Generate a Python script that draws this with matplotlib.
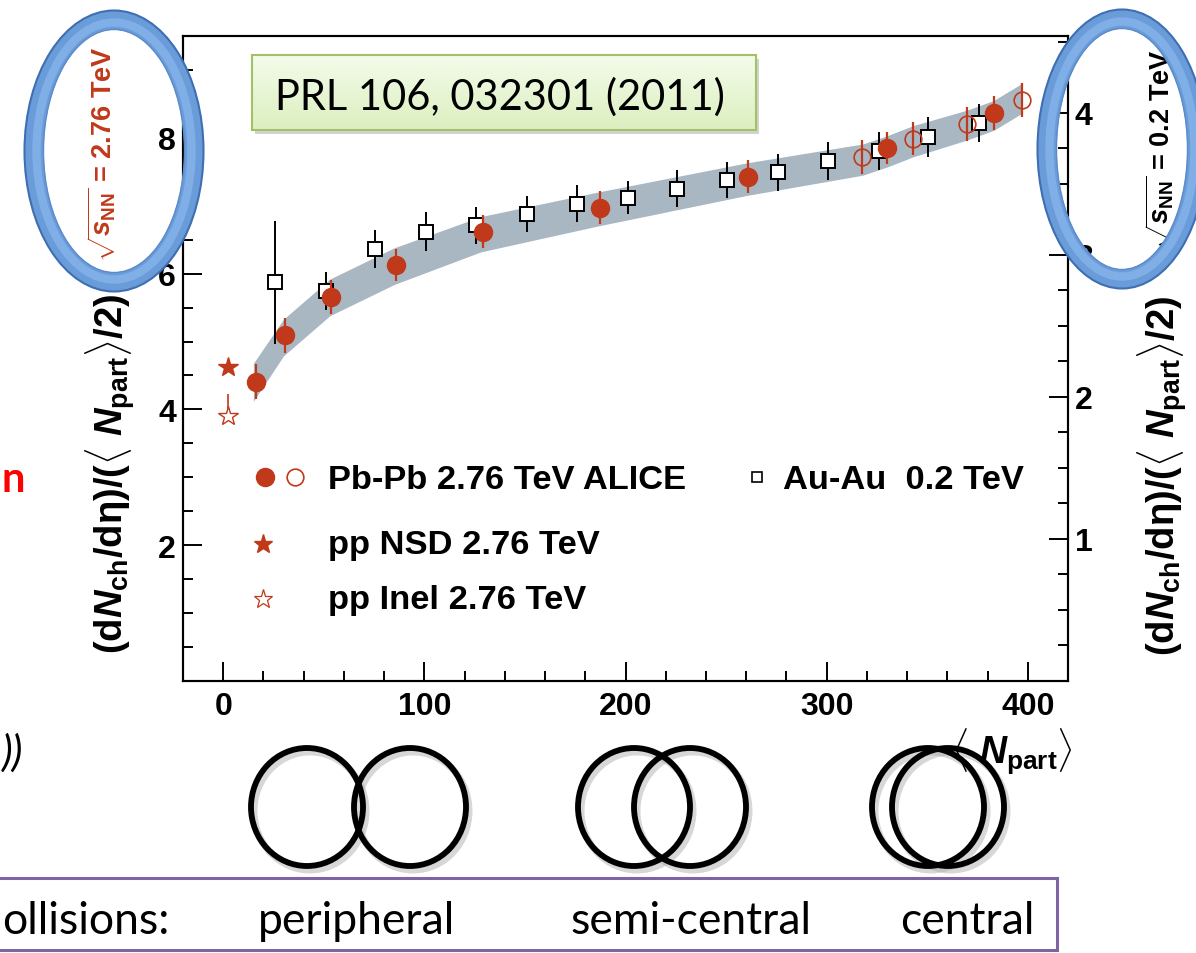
import numpy as np
import matplotlib
matplotlib.use('Agg')
import matplotlib.pyplot as plt
from matplotlib.patches import Ellipse, Rectangle
from matplotlib.ticker import MultipleLocator

# Pb-Pb 2.76 TeV ALICE (filled and open points)
pbpb_npart = [16.4, 30.8, 53.7, 86.0, 129.2, 187.3, 260.9, 330.0, 383.1]
pbpb_val = [4.41, 5.09, 5.66, 6.13, 6.62, 6.97, 7.43, 7.85, 8.37]
pbpb_err = [0.26, 0.26, 0.25, 0.24, 0.24, 0.24, 0.24, 0.24, 0.25]
pbpb_open_npart = [317.5, 342.9, 369.7, 397.0]
pbpb_open_val = [7.72, 7.99, 8.21, 8.56]
pbpb_open_err = [0.25, 0.25, 0.25, 0.25]

# Au-Au 0.2 TeV
auau_npart = [25.8, 51.2, 75.5, 100.9, 125.7, 151.1, 175.9, 201.2, 225.6,
              250.4, 275.8, 300.6, 326.0, 350.3, 375.7]
auau_val = [5.87, 5.74, 6.37, 6.62, 6.71, 6.88, 7.03, 7.12, 7.25,
            7.38, 7.49, 7.66, 7.81, 8.01, 8.22]
auau_err = [0.90, 0.28, 0.28, 0.29, 0.27, 0.27, 0.27, 0.24, 0.27,
            0.27, 0.27, 0.28, 0.28, 0.29, 0.28]

# pp 2.76 TeV
pp_npart = 2.5
pp_nsd = 4.62
pp_inel = 3.91
pp_inel_err = [[0.05], [0.31]]

# systematic band around the Pb-Pb points
band_npart = [15, 30, 53, 85, 128, 186, 260, 318, 330, 343, 370, 383, 397]
band_mid = [4.40, 5.06, 5.65, 6.11, 6.58, 6.95, 7.39, 7.68, 7.80, 7.95, 8.19, 8.33, 8.58]
band_half = [0.28, 0.27, 0.27, 0.27, 0.26, 0.25, 0.24, 0.23, 0.23, 0.23, 0.22, 0.22, 0.22]

RED = '#c0391a'
W, H = 1196, 954

plt.rcParams['font.family'] = ['Liberation Sans', 'DejaVu Sans']
plt.rcParams['font.weight'] = 'bold'
plt.rcParams['mathtext.fontset'] = 'custom'
plt.rcParams['mathtext.rm'] = 'Liberation Sans:bold'
plt.rcParams['mathtext.bf'] = 'Liberation Sans:bold'
plt.rcParams['mathtext.it'] = 'Liberation Sans:bold:italic'
plt.rcParams['mathtext.sf'] = 'Liberation Sans:bold'

fig = plt.figure(figsize=(W / 100, H / 100), dpi=100)
ax = fig.add_axes([183 / W, 1 - 682 / H, (1068 - 183) / W, (682 - 37) / H])

band_lo = np.array(band_mid) - np.array(band_half)
band_hi = np.array(band_mid) + np.array(band_half)
ax.fill_between(band_npart, band_lo, band_hi, color='#a9b7c2', lw=0, zorder=1)

ax.errorbar(auau_npart, auau_val, yerr=auau_err, fmt='s', ms=9.5, mfc='white',
            mec='black', mew=1.4, ecolor='black', elinewidth=1.4, capsize=0, zorder=3)
ax.errorbar(pbpb_npart, pbpb_val, yerr=pbpb_err, fmt='o', ms=13, color=RED,
            elinewidth=1.6, capsize=0, zorder=4)
ax.errorbar(pbpb_open_npart, pbpb_open_val, yerr=pbpb_open_err, fmt='o', ms=12,
            mfc='none', mec=RED, mew=1.2, ecolor=RED, elinewidth=1.6, capsize=0, zorder=4)
ax.plot([pp_npart], [pp_nsd], marker='*', ms=15, color=RED, ls='none', zorder=4)
ax.errorbar([pp_npart], [pp_inel], yerr=pp_inel_err, fmt='*', ms=15, mfc='white',
            mec=RED, mew=1.0, ecolor=RED, elinewidth=1.2, capsize=0, zorder=4)

ax.set_xlim(-20, 420)
ax.set_ylim(0, 9.5)
ax.xaxis.set_major_locator(MultipleLocator(100))
ax.xaxis.set_minor_locator(MultipleLocator(20))
ax.yaxis.set_major_locator(MultipleLocator(2))
ax.yaxis.set_minor_locator(MultipleLocator(0.5))
ax.set_yticks([2, 4, 6, 8])
ax.tick_params(which='both', direction='in', top=False, right=False, width=1.4,
               labelsize=23, colors='black')
ax.tick_params(which='major', length=14)
ax.tick_params(which='minor', length=7)
ax.tick_params(axis='x', pad=7)
ax.tick_params(axis='y', pad=5)
for s in ax.spines.values():
    s.set_linewidth(1.5)

ax2 = ax.twinx()
ax2.set_ylim(0, 4.54)
ax2.set_yticks([1, 2, 3, 4])
ax2.yaxis.set_minor_locator(MultipleLocator(0.25))
ax2.tick_params(which='both', direction='in', width=1.4, labelsize=23, pad=5)
ax2.tick_params(which='major', length=14)
ax2.tick_params(which='minor', length=7)
for s in ax2.spines.values():
    s.set_linewidth(1.5)

# overlay in pixel coordinates for labels and slide decorations
ov = fig.add_axes([0, 0, 1, 1], zorder=5)
ov.patch.set_alpha(0)

ylab = r'(d$N_{\mathrm{ch}}$/d$\mathrm{\eta}$)/($\langle$ $N_{\mathrm{part}}$$\rangle$/2)'
ov.text(110, 474, ylab, rotation=90, ha='center', va='center', fontsize=27.5)
ov.text(1162, 476, ylab, rotation=90, ha='center', va='center', fontsize=27.5)
ov.text(102, 154, r'$\sqrt{s_{\mathrm{NN}}}$ = 2.76 TeV', rotation=90, ha='center',
        va='center', fontsize=19.5, color=RED)
ov.text(1160, 150, r'$\sqrt{s_{\mathrm{NN}}}$ = 0.2 TeV', rotation=90, ha='center',
        va='center', fontsize=19.5, color='black')
ov.text(1012, 752, r'$\langle$ $N_{\mathrm{part}}$$\rangle$', ha='center', va='center',
        fontsize=27)

# legend
ov.plot([265], [478], 'o', ms=13, color=RED)
ov.plot([295], [478], 'o', ms=12, mfc='white', mec=RED, mew=1.2)
ov.plot([757], [478], 's', ms=7, mfc='white', mec='black', mew=1.2)
ov.plot([263], [545], '*', ms=14, color=RED)
ov.plot([263], [600], '*', ms=14, mfc='white', mec=RED, mew=0.9)
ov.text(328, 481, 'Pb-Pb 2.76 TeV ALICE', va='center', fontsize=24.8)
ov.text(783, 481, 'Au-Au  0.2 TeV', va='center', fontsize=24.8)
ov.text(328, 546, 'pp NSD 2.76 TeV', va='center', fontsize=24.8)
ov.text(328, 601, 'pp Inel 2.76 TeV', va='center', fontsize=24.8)

# reference box with a soft gradient
top_c = np.array([0.957, 0.988, 0.918])
bot_c = np.array([0.863, 0.937, 0.753])
grad = np.linspace(0, 1, 64)[:, None, None] * (bot_c - top_c) + top_c
ov.add_patch(Rectangle((255, 60), 504, 75, color='#7f7f7f', alpha=0.35, lw=0, zorder=1))
ov.imshow(grad, extent=(252, 756, 131, 56), aspect='auto', zorder=2)
ov.add_patch(Rectangle((252, 56), 504, 75, fill=False, ec='#a3c166', lw=1.5, zorder=3))
ov.text(500, 97, 'PRL 106, 032301 (2011)', ha='center', va='center', fontsize=30,
        family='Lato', weight='normal', zorder=4)


def ring(cx, cy, w, h):
    ov.add_patch(Ellipse((cx, cy), w, h, fill=False, lw=14, ec='#6b9cda', zorder=6))
    ov.add_patch(Ellipse((cx, cy), w - 5, h - 5, fill=False, lw=6, ec='#86b3ea',
                         alpha=0.8, zorder=6))
    ov.add_patch(Ellipse((cx, cy), w + 19, h + 19, fill=False, lw=1.5, ec='#3f6fb2', zorder=7))
    ov.add_patch(Ellipse((cx, cy), w - 19, h - 19, fill=False, lw=1.0, ec='#5b8bc9', zorder=7))


ring(114, 152, 160, 262)
ring(1122, 150, 150, 260)

# collision geometry sketches, with a light shadow
for cx in [307, 410, 634, 690, 928, 948]:
    ov.add_patch(Ellipse((cx + 3, 812), 112, 118, fill=False, lw=5, ec='#b0b0b0',
                         alpha=0.5, zorder=2))
    ov.add_patch(Ellipse((cx, 808), 112, 118, fill=False, lw=4.2, ec='black', zorder=3))

# bottom caption box
ov.add_patch(Rectangle((-5, 879), 1062, 72, fill=False, ec='#8064a2', lw=2.2, zorder=3))
cap = dict(va='baseline', fontsize=32, family='Lato', weight='normal')
ov.text(2, 934, 'ollisions:', ha='left', **cap)
ov.text(258, 934, 'peripheral', ha='left', **cap)
ov.text(570, 934, 'semi-central', ha='left', **cap)
ov.text(900, 934, 'central', ha='left', **cap)

# leftover text at the slide edge
ov.text(1, 492, 'n', ha='left', va='baseline', fontsize=30, family='Lato',
        weight='bold', color='#ff0000')
ov.text(2, 766, '))', ha='left', va='baseline', fontsize=30, family='Lato',
        style='italic', weight='normal')

ov.set_xlim(0, W)
ov.set_ylim(H, 0)
ov.axis('off')

fig.savefig('out.png', dpi=100)
